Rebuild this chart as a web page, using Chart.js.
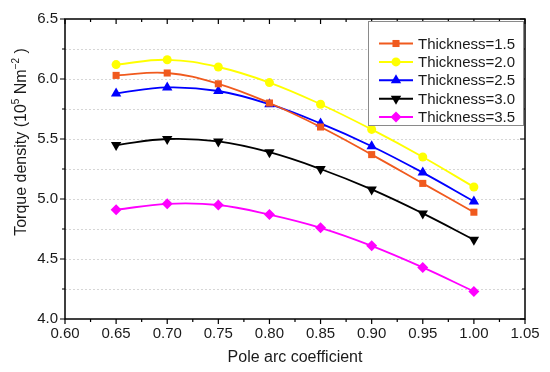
<!DOCTYPE html>
<html>
<head>
<meta charset="utf-8">
<script src="https://cdn.jsdelivr.net/npm/chart.js@4.4.0/dist/chart.umd.min.js"></script>
<style>
  html, body { margin: 0; padding: 0; background: #fff; }
  #wrap { width: 550px; height: 372px; }
</style>
</head>
<body>
<div id="wrap"><canvas id="torqueChart" width="550" height="372"></canvas></div>
<script>
const poleArc = [0.65, 0.70, 0.75, 0.80, 0.85, 0.90, 0.95, 1.00];
const thick15 = [6.03, 6.05, 5.96, 5.80, 5.60, 5.37, 5.13, 4.89];
const thick20 = [6.12, 6.16, 6.10, 5.97, 5.79, 5.58, 5.35, 5.10];
const thick25 = [5.88, 5.93, 5.90, 5.79, 5.63, 5.44, 5.22, 4.98];
const thick30 = [5.45, 5.50, 5.48, 5.39, 5.25, 5.08, 4.88, 4.66];
const thick35 = [4.91, 4.96, 4.95, 4.87, 4.76, 4.61, 4.43, 4.23];
const seriesNames = ['Thickness=1.5', 'Thickness=2.0', 'Thickness=2.5', 'Thickness=3.0', 'Thickness=3.5'];

const FONT = "'Liberation Sans', Arial, sans-serif";

const styles = [
  { color: '#f05a1e', pointStyle: 'rect', radius: 5, rotation: 0 },
  { color: '#ffff00', pointStyle: 'circle', radius: 4.5, rotation: 0 },
  { color: '#0000ff', pointStyle: 'triangle', radius: 6, rotation: 0 },
  { color: '#000000', pointStyle: 'triangle', radius: 6, rotation: 180 },
  { color: '#ff00ff', pointStyle: 'rectRot', radius: 5.5, rotation: 0 }
];

const allSeries = [thick15, thick20, thick25, thick30, thick35];

const datasets = allSeries.map((vals, i) => ({
  label: seriesNames[i],
  data: vals.map((v, j) => ({ x: poleArc[j], y: v })),
  borderColor: styles[i].color,
  backgroundColor: styles[i].color,
  borderWidth: 1.8,
  tension: 0.4,
  pointStyle: styles[i].pointStyle,
  pointRadius: styles[i].radius,
  pointRotation: styles[i].rotation,
  pointBorderWidth: 0,
  pointBackgroundColor: styles[i].color
}));

// frame, dotted grid, mirrored ticks, titles and legend
const framePlugin = {
  id: 'frame',
  beforeDatasetsDraw(chart) {
    const { ctx, chartArea: a, scales: { y } } = chart;
    ctx.save();
    ctx.strokeStyle = '#d6d6d6';
    ctx.lineWidth = 1;
    ctx.setLineDash([2, 2]);
    for (let i = 1; i < 10; i++) {
      const py = Math.round(y.getPixelForValue(4 + i * 0.25)) + 0.5;
      ctx.beginPath();
      ctx.moveTo(a.left, py);
      ctx.lineTo(a.right, py);
      ctx.stroke();
    }
    ctx.restore();
  },
  afterDatasetsDraw(chart) {
    const { ctx, chartArea: a, scales: { x, y } } = chart;
    ctx.save();
    ctx.strokeStyle = '#000';
    ctx.lineWidth = 1.5;
    ctx.strokeRect(a.left, a.top, a.right - a.left, a.bottom - a.top);
    ctx.lineWidth = 1.2;
    for (let i = 0; i <= 18; i++) {
      const px = x.getPixelForValue(0.6 + i * 0.025);
      const len = i % 2 === 0 ? 5 : 3;
      ctx.beginPath();
      ctx.moveTo(px, a.bottom); ctx.lineTo(px, a.bottom + len);
      ctx.moveTo(px, a.top); ctx.lineTo(px, a.top + len);
      ctx.stroke();
    }
    for (let i = 0; i <= 10; i++) {
      const py = y.getPixelForValue(4 + i * 0.25);
      const len = i % 2 === 0 ? 5 : 3;
      ctx.beginPath();
      ctx.moveTo(a.left, py); ctx.lineTo(a.left - len, py);
      ctx.moveTo(a.right, py); ctx.lineTo(a.right - len, py);
      ctx.stroke();
    }
    ctx.restore();
  },
  afterDraw(chart) {
    const { ctx, chartArea: a } = chart;
    ctx.save();
    ctx.fillStyle = '#1a1a1a';

    // x title
    ctx.font = '16px ' + FONT;
    ctx.textAlign = 'center';
    ctx.textBaseline = 'middle';
    ctx.fillText('Pole arc coefficient', (a.left + a.right) / 2, 358);

    // y title with superscripts
    const parts = [
      { t: 'Torque density (10', sup: false },
      { t: '5', sup: true },
      { t: ' Nm', sup: false },
      { t: '\u22122', sup: true },
      { t: ' )', sup: false }
    ];
    let total = 0;
    parts.forEach(p => {
      ctx.font = (p.sup ? '10px ' : '16px ') + FONT;
      p.w = ctx.measureText(p.t).width;
      total += p.w;
    });
    ctx.translate(20, 142);
    ctx.rotate(-Math.PI / 2);
    ctx.textAlign = 'left';
    ctx.textBaseline = 'alphabetic';
    let cx = -total / 2;
    parts.forEach(p => {
      ctx.font = (p.sup ? '10px ' : '16px ') + FONT;
      ctx.fillText(p.t, cx, p.sup ? -1 : 6);
      cx += p.w;
    });
    ctx.restore();

    // legend
    ctx.save();
    const lx = 368, ly = 21, lw = 155, lh = 104;
    ctx.fillStyle = '#fff';
    ctx.fillRect(lx, ly, lw, lh);
    ctx.strokeStyle = '#8a8a8a';
    ctx.lineWidth = 1;
    ctx.strokeRect(lx + 0.5, ly + 0.5, lw, lh);
    ctx.font = '15px ' + FONT;
    ctx.textAlign = 'left';
    ctx.textBaseline = 'middle';
    chart.data.datasets.forEach((ds, i) => {
      const rowY = 43.5 + i * 18.4;
      const s = styles[i];
      ctx.strokeStyle = s.color;
      ctx.fillStyle = s.color;
      ctx.lineWidth = 2;
      ctx.beginPath();
      ctx.moveTo(379, rowY);
      ctx.lineTo(413, rowY);
      ctx.stroke();
      Chart.helpers.drawPoint(ctx, {
        pointStyle: s.pointStyle, radius: s.radius, rotation: s.rotation, borderWidth: 0
      }, 396, rowY);
      ctx.fillStyle = '#1a1a1a';
      ctx.fillText(ds.label, 418, rowY + 1);
    });
    ctx.restore();
  }
};

new Chart(document.getElementById('torqueChart').getContext('2d'), {
  type: 'line',
  data: { datasets: datasets },
  options: {
    responsive: false,
    animation: false,
    layout: { padding: { top: 19, right: 25, left: 0, bottom: 0 } },
    plugins: {
      legend: { display: false },
      tooltip: { enabled: false }
    },
    scales: {
      x: {
        type: 'linear',
        min: 0.6,
        max: 1.05,
        grid: { display: false, drawTicks: false },
        border: { display: false },
        ticks: {
          stepSize: 0.05,
          autoSkip: false,
          maxRotation: 0,
          padding: 6,
          color: '#1a1a1a',
          font: { family: FONT, size: 15 },
          callback: v => Number(v).toFixed(2)
        },
        afterFit: scale => { scale.height = 53; }
      },
      y: {
        min: 4,
        max: 6.5,
        grid: { display: false, drawTicks: false },
        border: { display: false },
        ticks: {
          stepSize: 0.5,
          padding: 7,
          color: '#1a1a1a',
          font: { family: FONT, size: 15 },
          callback: v => Number(v).toFixed(1)
        },
        afterFit: scale => { scale.width = 65; }
      }
    }
  },
  plugins: [framePlugin]
});
</script>
</body>
</html>
